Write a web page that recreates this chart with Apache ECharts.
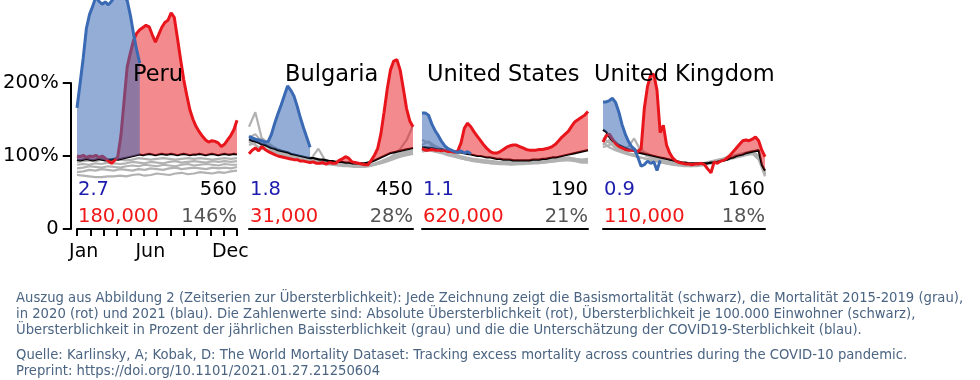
<!DOCTYPE html>
<html><head><meta charset="utf-8">
<script src="https://cdn.jsdelivr.net/npm/echarts@6/dist/echarts.min.js"></script>
<style>html,body{margin:0;padding:0;background:#fff}#c{width:980px;height:380px}</style>
</head><body><div id="c"></div>
<script>
// ---------- data ----------
const countries = ['Peru', 'Bulgaria', 'United States', 'United Kingdom'];
const months = ['Jan','Feb','Mar','Apr','May','Jun','Jul','Aug','Sep','Oct','Nov','Dec'];
const xTickLabels = ['Jan', 'Jun', 'Dec'];
const yTickLabels = ['0', '100%', '200%'];
const weeks = [1,2,3,4,5,6,7,8,9,10,11,12,13,14,15,16,17,18,19,20,21,22,23,24,25,26,27,28,29,30,31,32,33,34,35,36,37,38,39,40,41,42,43,44,45,46,47,48,49,50,51,52];
const biweeks = [1,3,5,7,9,11,13,15,17,19,21,23,25,27,29,31,33,35,37,39,41,43,45,47,49,51,53];

// Peru
const peruBaseline = [95,94,95,96,95,94,95,96,95,94,95,95,96,95,96,97,98,99,100,101,102,101,102,103,102,101,102,103,102,102,103,102,101,102,103,102,101,102,102,103,102,101,102,103,102,101,102,103,102,102,103,102];
const peruRed = [100,99,101,98,100,99,101,98,100,97,93,90,94,99,128,175,222,241,258,268,273,276,279,277,266,256,266,276,283,286,296,290,262,233,205,183,163,150,140,133,127,122,119,121,120,118,113,116,122,128,136,149];
const peruBlue = [166,200,235,275,294,305,318,312,308,311,307,312,318,322,320,318,313,293,268,246,227];
const peruGray = [
  [92,93,94,93,95,94,96,95,94,95,97,96,95,96,97,96,95,96,97,96,97,96,95,96,97,96,97],
  [88,89,88,90,89,91,90,89,90,92,91,90,92,91,90,92,93,91,92,93,92,91,93,92,93,92,93],
  [83,84,86,85,84,86,85,84,86,87,86,88,87,86,88,87,86,88,89,87,88,89,88,87,89,88,88],
  [78,79,81,80,82,81,80,82,81,80,82,81,83,82,81,83,84,82,83,84,83,82,84,83,84,83,85],
  [74,73,72,71,71,72,72,73,72,74,75,73,74,76,75,74,76,77,75,76,78,77,76,78,77,79,80]
];
const peruStats = ['2.7', '560', '180,000', '146%'];

// Bulgaria
const bulgariaBaseline = [123,121,120,118,116,115,113,111,110,108,107,106,105,103,102,101,100,99,98,97,97,96,95,95,94,93,93,92,92,92,91,91,90,90,90,90,90,91,92,94,96,98,100,102,104,105,106,107,108,109,110,111];
const bulgariaRed = [103,108,111,107,113,109,106,104,102,100,99,98,97,96,95,95,93,93,92,91,92,90,90,91,89,91,90,90,94,96,99,97,92,91,90,89,88,88,94,101,110,130,160,192,218,230,232,218,192,165,148,140];
const bulgariaBlue = [127,125,123,122,121,119,120,130,145,158,170,183,196,190,182,168,152,138,125,112];
const bulgariaGray = [
  [140,160,125,118,112,108,104,100,97,96,98,110,95,92,90,89,88,88,87,87,89,92,96,102,110,122,142],
  [125,130,120,115,110,106,103,100,98,96,94,93,92,91,90,89,88,87,87,88,90,93,97,100,104,106,108],
  [118,122,115,112,108,104,101,99,97,95,93,92,91,90,89,88,87,86,86,87,89,92,95,98,101,104,106],
  [115,118,124,112,106,103,100,98,96,94,92,91,90,89,88,87,86,85,85,86,88,91,94,97,100,102,104],
  [120,115,110,108,105,102,100,97,95,93,92,90,89,88,87,86,86,85,85,86,88,90,93,96,99,101,103]
];
const bulgariaStats = ['1.8', '450', '31,000', '28%'];

// United States
const usBaseline = [112,112,111,111,110,109,109,108,107,107,106,105,105,104,103,102,101,100,100,99,98,98,97,96,96,95,95,95,94,94,94,94,94,94,95,95,95,96,96,97,98,98,99,100,101,102,103,104,105,106,107,108];
const usRed = [110,108,108,109,108,108,107,108,106,106,105,107,118,138,145,140,133,127,121,115,110,106,104,104,106,109,112,114,115,115,113,111,109,108,108,108,109,109,110,111,113,116,121,126,130,134,141,147,150,153,156,161];
const usBlue = [159,159,156,144,135,128,120,114,110,108,106,105,107,104,106,103];
const usGray = [
  [122,118,112,108,105,103,100,98,96,95,94,93,92,92,92,92,92,93,93,94,95,96,97,98,96,95,96],
  [115,120,114,110,106,102,99,97,95,94,93,92,91,91,91,91,91,92,92,93,94,95,96,97,96,94,94],
  [110,112,110,107,104,101,98,96,94,93,92,91,90,90,90,90,90,91,91,92,93,94,95,96,95,93,93],
  [108,110,108,105,102,100,97,95,94,92,91,90,90,89,89,89,90,90,91,91,92,93,94,95,94,92,92],
  [106,108,106,104,101,99,97,95,93,92,91,90,89,89,88,89,89,90,90,91,92,93,94,94,93,91,91]
];
const usStats = ['1.1', '190', '620,000', '21%'];

// United Kingdom
const ukBaseline = [136,133,126,121,118,115,113,111,109,108,107,105,104,103,102,101,100,99,98,97,96,95,94,93,92,91,91,90,90,90,90,90,90,90,91,91,92,93,94,95,97,98,100,101,102,104,105,106,107,108,88,80];
const ukRed = [119,128,130,123,117,113,111,109,108,108,107,106,110,165,195,211,212,190,132,142,115,104,97,93,91,90,89,89,88,89,89,90,88,82,77,92,90,93,94,97,101,106,111,116,121,122,121,123,126,121,108,99];
const ukBlue = [174,174,176,179,173,160,143,130,120,113,109,98,86,88,93,90,92,80,94];
const ukGray = [
  [120,130,115,110,112,124,108,104,100,96,93,91,90,89,88,89,90,92,94,96,99,101,103,105,107,100,76],
  [125,118,112,108,106,110,105,102,98,95,92,90,89,88,88,88,89,91,93,95,97,100,102,104,106,98,74],
  [115,122,110,106,104,102,112,100,97,94,91,89,88,87,87,87,88,90,92,94,96,98,100,102,104,96,78],
  [112,115,120,108,103,100,98,96,94,92,90,88,87,86,86,86,87,89,91,93,95,97,99,101,103,95,72],
  [118,112,108,105,102,100,98,96,94,92,90,89,88,87,86,87,88,90,92,94,96,98,100,102,104,97,75]
];
const ukStats = ['0.9', '160', '110,000', '18%'];

// ---------- layout / styling ----------
const panelData = [
  [peruBaseline, peruRed, peruBlue, peruGray, peruStats],
  [bulgariaBaseline, bulgariaRed, bulgariaBlue, bulgariaGray, bulgariaStats],
  [usBaseline, usRed, usBlue, usGray, usStats],
  [ukBaseline, ukRed, ukBlue, ukGray, ukStats]
];
const panelLeft = [77, 249, 422, 603];
const panelWidth = [160, 164, 166, 162];
const titleX = [133, 285, 427, 594];
const PLOT_H = 229;
const YMAX = 229 / 0.73;
const FONT = 'DejaVu Sans';
const RED = '#e8161c', BLUE = '#3a6ab4';

const grids = [], xAxes = [], yAxes = [], series = [], graphics = [];

panelData.forEach(([base, red, blue, gray, stats], p) => {
  grids.push({left: panelLeft[p], top: 0, width: panelWidth[p], height: PLOT_H});
  xAxes.push({gridIndex: p, type: 'category', data: weeks, boundaryGap: false, show: false});
  xAxes.push({gridIndex: p, type: 'category', data: biweeks, boundaryGap: false, show: false});
  xAxes.push({gridIndex: p, type: 'category', data: months, boundaryGap: true, position: 'bottom',
    axisLine: {show: true, lineStyle: {color: '#000', width: 2}},
    axisTick: {show: p === 0, length: 7, interval: 0, lineStyle: {color: '#000', width: 2}},
    axisLabel: {show: p === 0, interval: 0, margin: 14,
      formatter: v => xTickLabels.includes(v) ? v : '',
      fontSize: 19, color: '#000', fontFamily: FONT},
    splitLine: {show: false}});
  yAxes.push({gridIndex: p, type: 'value', min: 0, max: YMAX, show: false, splitLine: {show: false}});
  const xw = 3 * p, xb = 3 * p + 1;
  gray.forEach(g => series.push({type: 'line', xAxisIndex: xb, yAxisIndex: p, data: g, symbol: 'none',
    silent: true, lineStyle: {color: '#b2b2b2', width: 2.2}, z: 1}));
  series.push({type: 'line', xAxisIndex: xw, yAxisIndex: p, data: base, symbol: 'none', silent: true,
    lineStyle: {color: '#000', width: 2.2}, z: 2});
  // red fill between baseline and 2020
  series.push({type: 'line', xAxisIndex: xw, yAxisIndex: p, data: base, stack: 'r' + p, symbol: 'none',
    silent: true, lineStyle: {width: 0, opacity: 0}, z: 3});
  series.push({type: 'line', xAxisIndex: xw, yAxisIndex: p, data: red.map((v, i) => Math.max(0, v - base[i])),
    stack: 'r' + p, symbol: 'none', silent: true, lineStyle: {width: 0, opacity: 0},
    areaStyle: {color: 'rgba(232,22,28,0.5)', opacity: 1}, z: 3});
  series.push({type: 'line', xAxisIndex: xw, yAxisIndex: p, data: red, symbol: 'none', silent: true,
    lineStyle: {color: RED, width: 3}, z: 4});
  // blue fill between baseline and 2021
  series.push({type: 'line', xAxisIndex: xw, yAxisIndex: p, data: base.slice(0, blue.length), stack: 'b' + p,
    symbol: 'none', silent: true, lineStyle: {width: 0, opacity: 0}, z: 5});
  series.push({type: 'line', xAxisIndex: xw, yAxisIndex: p, data: blue.map((v, i) => Math.max(0, v - base[i])),
    stack: 'b' + p, symbol: 'none', silent: true, lineStyle: {width: 0, opacity: 0},
    areaStyle: {color: 'rgba(58,106,180,0.55)', opacity: 1}, z: 5});
  series.push({type: 'line', xAxisIndex: xw, yAxisIndex: p, data: blue, symbol: 'none', silent: true,
    lineStyle: {color: BLUE, width: 3}, z: 6});

  // texts
  const L = panelLeft[p], R = panelLeft[p] + panelWidth[p];
  const mk = (txt, x, y, align, fill, size) => ({type: 'text', x: x, y: y, z: 100, silent: true,
    style: {text: txt, fontSize: size, fontFamily: FONT, fill: fill,
      align: align, textAlign: align, verticalAlign: 'middle', textVerticalAlign: 'middle'}});
  graphics.push(mk(countries[p], titleX[p], 75, 'left', '#000', 22.5));
  graphics.push(mk(stats[0], L + 1, 190, 'left', '#1c1cae', 19.5));
  graphics.push(mk(stats[1], R, 190, 'right', '#000', 19.5));
  graphics.push(mk(stats[2], L + 1, 217, 'left', '#f01818', 19.5));
  graphics.push(mk(stats[3], R, 217, 'right', '#555', 19.5));
});

// shared y-axis (0 .. 200%)
grids.push({left: 70, top: 83, width: 4, height: 146});
xAxes.push({gridIndex: 4, type: 'value', show: false});
yAxes.push({gridIndex: 4, type: 'value', min: 0, max: 200, interval: 100, position: 'left',
  axisLine: {show: true, lineStyle: {color: '#000', width: 2}},
  axisTick: {show: true, length: 8, lineStyle: {color: '#000', width: 2}},
  axisLabel: {margin: 12, fontSize: 19.5, color: '#000', fontFamily: FONT,
    formatter: v => yTickLabels[Math.round(v / 100)]},
  splitLine: {show: false}});

// caption
const captionLines = [
  'Auszug aus Abbildung 2 (Zeitserien zur Übersterblichkeit): Jede Zeichnung zeigt die Basismortalität (schwarz), die Mortalität 2015-2019 (grau),',
  'in 2020 (rot) und 2021 (blau). Die Zahlenwerte sind: Absolute Übersterblichkeit (rot), Übersterblichkeit je 100.000 Einwohner (schwarz),',
  'Übersterblichkeit in Prozent der jährlichen Baissterblichkeit (grau) und die die Unterschätzung der COVID19-Sterblichkeit (blau).',
  'Quelle: Karlinsky, A; Kobak, D: The World Mortality Dataset: Tracking excess mortality across countries during the COVID-10 pandemic.',
  'Preprint: https://doi.org/10.1101/2021.01.27.21250604'
];
const captionY = [299, 315, 331, 356, 372];
captionLines.forEach((t, i) => graphics.push({type: 'text', x: 16, y: captionY[i], z: 100, silent: true,
  style: {text: t, fontSize: 13.2, fontFamily: 'DejaVu Sans', fill: '#4a6482',
    align: 'left', textAlign: 'left', verticalAlign: 'middle', textVerticalAlign: 'middle'}}));

const chart = echarts.init(document.getElementById('c'), null, {renderer: 'canvas'});
chart.setOption({
  animation: false,
  backgroundColor: '#fff',
  grid: grids, xAxis: xAxes, yAxis: yAxes, series: series,
  graphic: {elements: graphics}
});
</script></body></html>
